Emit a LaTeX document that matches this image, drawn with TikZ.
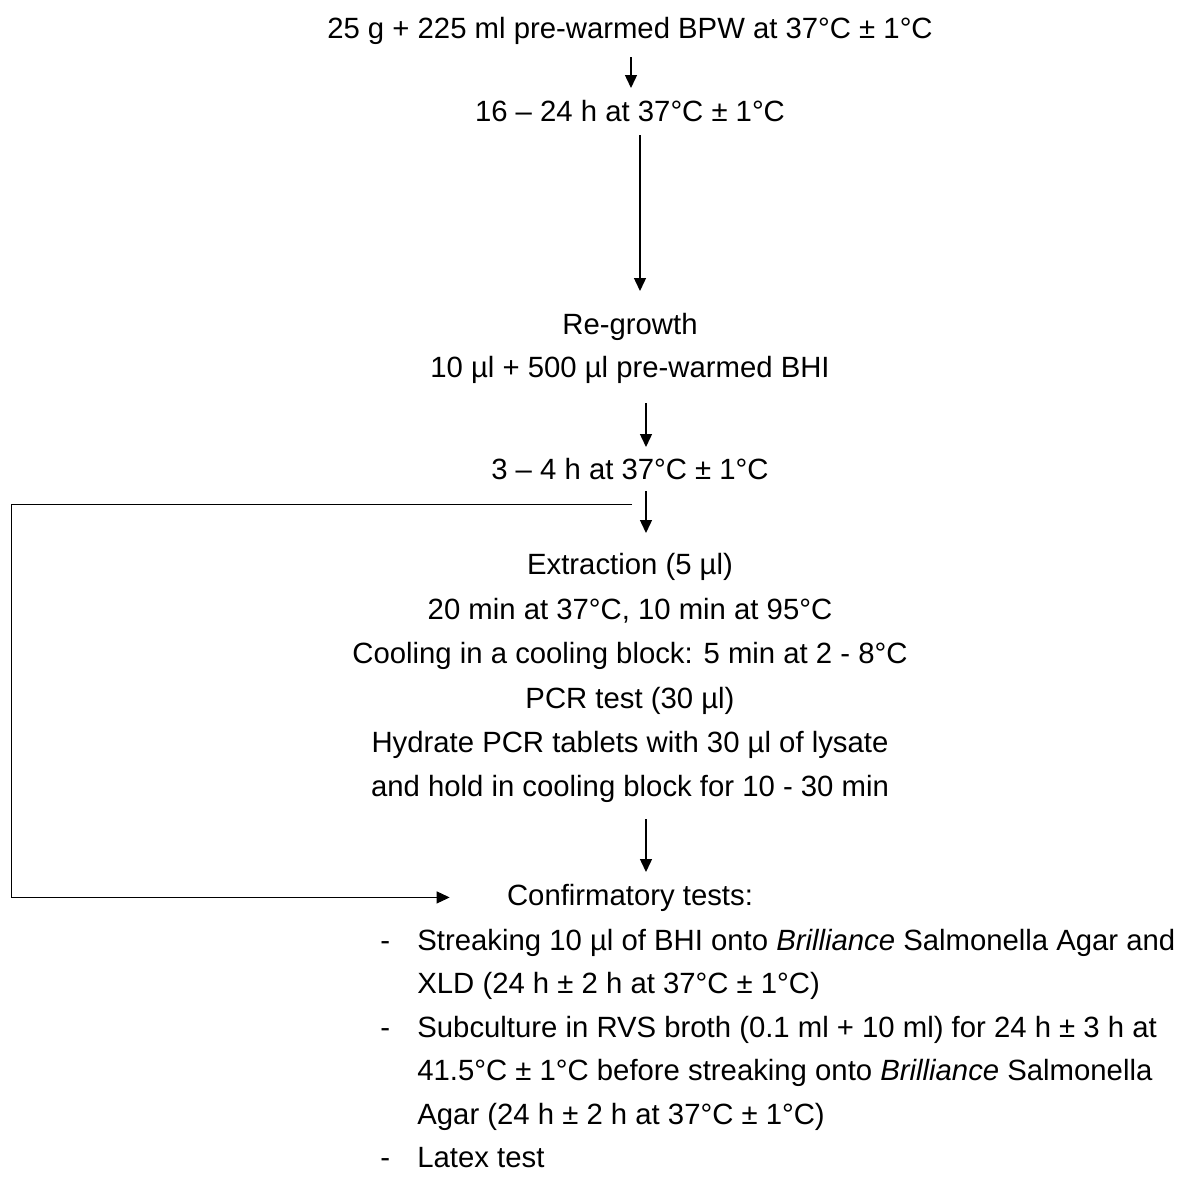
\documentclass[tikz,border=0pt]{standalone}
\usepackage{fontspec}
\setmainfont{Liberation Sans}
\usetikzlibrary{arrows.meta,calc}
\begin{document}
\begin{tikzpicture}[x=0.5pt,y=-0.5pt,
  txt/.style={inner sep=0pt, anchor=base, font=\fontsize{14.65pt}{17pt}\selectfont},
  ltxt/.style={txt, anchor=base west},
  arr/.style={line width=0.7pt, -{Triangle[length=6.5pt,width=6pt]}},
  loopline/.style={line width=0.5pt, -{Triangle[length=6.5pt,width=6pt]}}]
\useasboundingbox (0,0) rectangle (1179,1191);
% centred steps
\node[txt] (l1) at (630,38) {25 g + 225 ml pre-warmed BPW at 37°C ± 1°C};
\node[txt] (l2) at (630,121) {16 – 24 h at 37°C ± 1°C};
\node[txt] (l3) at (630,334) {Re-growth};
\node[txt] (l4) at (630,377) {10 µl + 500 µl pre-warmed BHI};
\node[txt] (l5) at (630,479) {3 – 4 h at 37°C ± 1°C};
\node[txt] (l6) at (630,574) {Extraction (5 µl)};
\node[txt] (l7) at (630,619) {20 min at 37°C, 10 min at 95°C};
\node[txt] (l8) at (630,663) {Cooling in a cooling block: 5 min at 2 - 8°C};
\node[txt] (l9) at (630,708) {PCR test (30 µl)};
\node[txt] (l10) at (630,752) {Hydrate PCR tablets with 30 µl of lysate};
\node[txt] (l11) at (630,796) {and hold in cooling block for 10 - 30 min};
\node[txt] (conf) at (630,905) {Confirmatory tests:};
% bullet list
\node[ltxt] (d1) at (380,950) {-};
\node[ltxt] (b1a) at (417,950) {Streaking 10 µl of BHI onto \textit{Brilliance} Salmonella Agar and};
\node[ltxt] (b1b) at (417,993) {XLD (24 h ± 2 h at 37°C ± 1°C)};
\node[ltxt] (d2) at (380,1037) {-};
\node[ltxt] (b2a) at (417,1037) {Subculture in RVS broth (0.1 ml + 10 ml) for 24 h ± 3 h at};
\node[ltxt] (b2b) at (417,1080) {41.5°C ± 1°C before streaking onto \textit{Brilliance} Salmonella};
\node[ltxt] (b2c) at (417,1124) {Agar (24 h ± 2 h at 37°C ± 1°C)};
\node[ltxt] (d3) at (380,1167) {-};
\node[ltxt] (b3) at (417,1167) {Latex test};
% arrow x positions
\coordinate (ax1) at (631,0);
\coordinate (ax2) at (640,0);
\coordinate (ax3) at (646,0);
% arrows
\draw[arr] ($(l1.base -| ax1)+(0,19)$) -- ($(l2.base -| ax1)+(0,-33)$);
\draw[arr] ($(l2.base -| ax2)+(0,14)$) -- ($(l3.base -| ax2)+(0,-43)$);
\draw[arr] ($(l4.base -| ax3)+(0,26)$) -- ($(l5.base -| ax3)+(0,-32)$);
\draw[arr] ($(l5.base -| ax3)+(0,12)$) -- ($(l6.base -| ax3)+(0,-41)$);
\draw[arr] ($(l11.base -| ax3)+(0,23)$) -- ($(conf.base -| ax3)+(0,-33)$);
% loop to confirmatory tests
\coordinate (loopstart) at (632,504);
\coordinate (loopcorner) at (11,504);
\draw[loopline] (loopstart) -- (loopcorner) |- ($(conf.west)+(-57,0)$);
\end{tikzpicture}
\end{document}
